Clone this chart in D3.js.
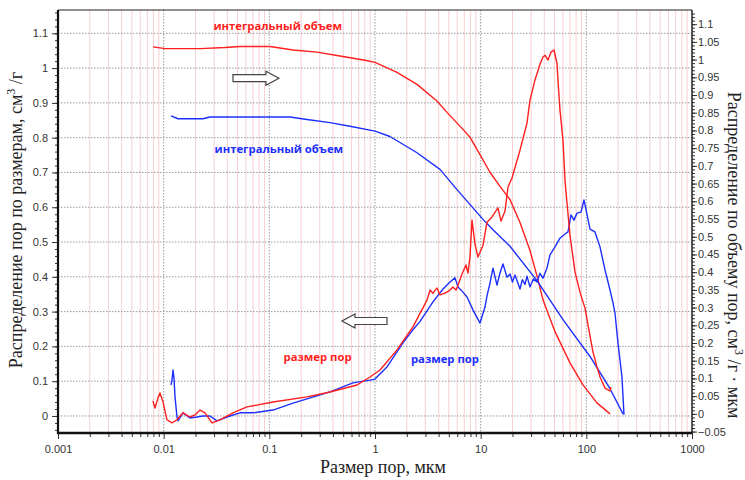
<!DOCTYPE html>
<html>
<head>
<meta charset="utf-8">
<script src="https://cdn.jsdelivr.net/npm/d3@7"></script>
<style>
  body { margin: 0; background: #fff; }
</style>
</head>
<body>
<div id="chart"></div>
<script>
// размер пор, мкм / распределение (левая ось) - красная кривая
var redSizeX = [0.00792, 0.00828, 0.00884, 0.00923, 0.00986, 0.01075, 0.01199, 0.01337, 0.01524, 0.01775,
    0.0198, 0.02207, 0.02461, 0.02867, 0.03412, 0.04529, 0.06146, 0.1083, 0.2272, 0.3751,
    0.6756, 0.8967, 1.115, 1.615, 1.97, 2.288, 2.666, 3.105, 3.32, 3.54, 3.86, 4.12, 4.59, 5.13, 5.47, 5.84,
    6.10, 6.656, 7.262, 7.586, 7.923, 8.277, 8.836, 9.432, 10.52, 11.48,
    12.80, 14.58, 15.57, 16.99, 18.14, 19.79, 23.56, 27.44, 29.29, 32.66,
    36.42, 38.89, 40.62, 43.37, 46.30, 49.42, 52.75, 53.91, 56.31, 60.12,
    62.80, 65.60, 70.02, 78.08, 87.07, 97.1, 108.3, 115.6, 126.1, 134.7,
    150.2, 167.5, 171.2];
var redSizeY = [0.043, 0.023, 0.052, 0.066, 0.040, -0.011, -0.020, -0.011, 0.009, -0.003,
    0.003, 0.017, 0.009, -0.020, -0.011, 0.009, 0.026, 0.040, 0.055, 0.069,
    0.089, 0.112, 0.132, 0.190, 0.228, 0.256, 0.295, 0.333, 0.362, 0.353, 0.368, 0.348, 0.353, 0.362, 0.371, 0.362,
    0.376, 0.408, 0.434, 0.411, 0.457, 0.563, 0.494, 0.457, 0.491, 0.557,
    0.572, 0.598, 0.560, 0.589, 0.658, 0.684, 0.764, 0.842, 0.908, 0.966,
    1.011, 1.032, 1.037, 1.023, 1.046, 1.052, 1.014, 0.966, 0.879, 0.793,
    0.678, 0.612, 0.520, 0.414, 0.356, 0.310, 0.230, 0.184, 0.141, 0.112,
    0.080, 0.072, 0.083];

// синяя кривая распределения (левая ось)
var blueSizeX = [0.01173, 0.01199, 0.01226, 0.01253, 0.0128, 0.01337, 0.01367, 0.01524, 0.01775, 0.02067,
    0.02357, 0.02744, 0.03196, 0.03975, 0.05278, 0.07004, 0.1083, 0.1675, 0.3751, 0.6189,
    0.8967, 1.0, 1.299, 1.840, 2.288, 2.666, 3.105, 3.538, 4.40, 5.125, 5.715, 6.101,
    6.803, 7.422, 8.459, 9.854, 10.99, 11.48, 12.25, 13.08, 14.27, 15.23, 16.26,
    17.75, 18.95, 20.0, 21.13, 23.56, 24.8, 26.27, 27.44, 29.29, 31.5, 34.12, 36.4, 38.89, 42.43, 45.29,
    50.50, 56.31, 62.80, 67.04, 71.56, 76.39, 81.55, 88.99, 95.0, 101.4,
    108.3, 120.7, 134.7, 150.2, 167.5, 178.8, 186.7, 199.3, 217.4, 227.2];
var blueSizeY = [0.089, 0.103, 0.132, 0.109, 0.055, -0.003, -0.014, 0.009, -0.006, -0.003,
    0.000, 0.000, -0.014, -0.003, 0.009, 0.009, 0.017, 0.037, 0.069, 0.095,
    0.103, 0.106, 0.141, 0.210, 0.248, 0.272, 0.302, 0.328, 0.365, 0.385, 0.397, 0.371,
    0.356, 0.342, 0.305, 0.267, 0.313, 0.345, 0.382, 0.425, 0.376, 0.411, 0.437,
    0.399, 0.408, 0.385, 0.405, 0.365, 0.392, 0.378, 0.402, 0.371, 0.394, 0.385, 0.410, 0.396, 0.425, 0.463,
    0.486, 0.511, 0.523, 0.529, 0.578, 0.563, 0.583, 0.586, 0.621, 0.580,
    0.537, 0.529, 0.486, 0.420, 0.362, 0.325, 0.296, 0.210, 0.112, 0.003];

// интегральный объем (правая ось)
var redIntX = [0.00792, 0.01029, 0.02207, 0.03805, 0.05278, 0.1015, 0.1675, 0.2825, 0.4664, 0.8042,
    1.0, 1.615, 2.497, 3.860, 4.800, 6.803, 7.923, 9.854, 12.25, 15.23,
    18.95, 23.56, 29.29, 34.87, 38.89, 50.50, 70.02, 92.96, 126.1, 167.5];
var redIntY = [1.036, 1.031, 1.031, 1.034, 1.037, 1.037, 1.027, 1.021, 1.010, 0.998,
    0.992, 0.964, 0.930, 0.883, 0.851, 0.803, 0.781, 0.732, 0.682, 0.642,
    0.605, 0.540, 0.461, 0.379, 0.322, 0.232, 0.144, 0.082, 0.031, 0.000];

var blueIntX = [0.01173, 0.01367, 0.02357, 0.02744, 0.1569, 0.2272, 0.3751, 0.5798, 1.0, 1.386,
    2.497, 4.121, 5.970, 10.52, 13.08, 18.95, 34.12, 60.12, 108.3, 167.5, 222.3];
var blueIntY = [0.841, 0.833, 0.833, 0.838, 0.838, 0.831, 0.822, 0.812, 0.798, 0.783,
    0.737, 0.690, 0.633, 0.549, 0.520, 0.473, 0.376, 0.266, 0.162, 0.071, 0.000];

var xTicks = [0.001, 0.01, 0.1, 1, 10, 100, 1000];
var xTickLabels = ["0.001", "0.01", "0.1", "1", "10", "100", "1000"];
var leftTicks = d3.range(0, 12).map(i => i / 10);
var rightTicks = d3.range(-1, 23).map(i => i / 20);

var width = 745;
var height = 480;
var plotLeft = 58, plotRight = 692, plotTop = 10, plotBottom = 433;

var svg = d3.select('#chart')
    .append('svg')
    .attr('width', width)
    .attr('height', height);

var x = d3.scaleLog().domain([0.001, 1000]).range([plotLeft, plotRight]);
var yLeft = d3.scaleLinear().domain([-0.049, 1.167]).range([plotBottom, plotTop]);
var yRight = d3.scaleLinear().domain([-0.054, 1.14]).range([plotBottom, plotTop]);

// сетка: промежуточные вертикальные линии
var minorX = [];
for (let p = -3; p < 3; p++) {
    for (let k = 2; k <= 9; k++) minorX.push(k * Math.pow(10, p));
}
svg.append('g')
    .selectAll('line')
    .data(minorX)
    .enter()
    .append('line')
    .attr('x1', d => x(d)).attr('x2', d => x(d))
    .attr('y1', plotTop).attr('y2', plotBottom)
    .attr('stroke', '#f9d0d0')
    .attr('stroke-width', 1);

svg.append('g')
    .selectAll('line')
    .data(xTicks.slice(1, -1))
    .enter()
    .append('line')
    .attr('x1', d => x(d)).attr('x2', d => x(d))
    .attr('y1', plotTop).attr('y2', plotBottom)
    .attr('stroke', '#9a9a9a')
    .attr('stroke-dasharray', '1.5,1.5')
    .attr('stroke-width', 1);

svg.append('g')
    .selectAll('line')
    .data(leftTicks)
    .enter()
    .append('line')
    .attr('x1', plotLeft).attr('x2', plotRight)
    .attr('y1', d => yLeft(d)).attr('y2', d => yLeft(d))
    .attr('stroke', '#9a9a9a')
    .attr('stroke-dasharray', '1.5,1.5')
    .attr('stroke-width', 1);

// кривые
var line = (xs, ys, yScale) => d3.line()
    .x((d, i) => x(xs[i]))
    .y((d, i) => yScale(ys[i]))(xs);

var series = [
    { xs: redIntX, ys: redIntY, y: yRight, color: '#ff1f1f' },
    { xs: blueIntX, ys: blueIntY, y: yRight, color: '#1c2fff' },
    { xs: blueSizeX, ys: blueSizeY, y: yLeft, color: '#1c2fff' },
    { xs: redSizeX, ys: redSizeY, y: yLeft, color: '#ff1f1f' }
];
svg.append('g')
    .selectAll('path')
    .data(series)
    .enter()
    .append('path')
    .attr('d', d => line(d.xs, d.ys, d.y))
    .attr('fill', 'none')
    .attr('stroke', d => d.color)
    .attr('stroke-width', 1.4)
    .attr('stroke-linejoin', 'round');

// оси
svg.append('g')
    .attr('transform', 'translate(0,' + plotBottom + ')')
    .call(d3.axisBottom(x).tickValues(minorX).tickSize(4).tickFormat(''));
svg.append('g')
    .attr('transform', 'translate(0,' + plotBottom + ')')
    .call(d3.axisBottom(x).tickValues(xTicks).tickSize(6).tickPadding(6)
        .tickFormat((d, i) => xTickLabels[i]));

svg.append('g')
    .attr('transform', 'translate(' + plotLeft + ',0)')
    .call(d3.axisLeft(yLeft).tickValues(d3.range(-2, 59).map(i => i / 50)).tickSize(3).tickFormat(''));
svg.append('g')
    .attr('transform', 'translate(' + plotLeft + ',0)')
    .call(d3.axisLeft(yLeft).tickValues(leftTicks).tickSize(6).tickPadding(4)
        .tickFormat(d => d3.format('')(+d.toFixed(1))));

svg.append('g')
    .attr('transform', 'translate(' + plotRight + ',0)')
    .call(d3.axisRight(yRight).tickValues(d3.range(-5, 114).map(i => i / 100)).tickSize(3).tickFormat(''));
svg.append('g')
    .attr('transform', 'translate(' + plotRight + ',0)')
    .call(d3.axisRight(yRight).tickValues(rightTicks).tickSize(5).tickPadding(1)
        .tickFormat(d => d3.format('')(+d.toFixed(2))));

svg.selectAll('.domain').remove();
svg.selectAll('.tick line').attr('stroke', '#333');
svg.selectAll('.tick text')
    .attr('font-family', 'Liberation Sans, Arial, sans-serif')
    .attr('font-size', 11)
    .attr('fill', '#333');

// рамка
svg.append('line').attr('x1', plotLeft).attr('x2', plotRight).attr('y1', plotTop).attr('y2', plotTop)
    .attr('stroke', '#222').attr('stroke-width', 1.2);
svg.append('line').attr('x1', plotRight).attr('x2', plotRight).attr('y1', plotTop).attr('y2', plotBottom)
    .attr('stroke', '#222').attr('stroke-width', 1.5);
svg.append('line').attr('x1', plotLeft).attr('x2', plotLeft).attr('y1', plotTop).attr('y2', plotBottom + 1)
    .attr('stroke', '#111').attr('stroke-width', 2.2);
svg.append('line').attr('x1', plotLeft - 1).attr('x2', plotRight).attr('y1', plotBottom).attr('y2', plotBottom)
    .attr('stroke', '#111').attr('stroke-width', 2.6);

// подписи осей
var serif = 'Liberation Serif, Times New Roman, serif';
var leftTitle = svg.append('text')
    .attr('transform', 'translate(22,' + 220 + ') rotate(-90)')
    .attr('text-anchor', 'middle')
    .attr('font-family', serif)
    .attr('font-size', 18)
    .attr('fill', '#222');
leftTitle.append('tspan').text('Распределение пор по размерам, см');
leftTitle.append('tspan').attr('font-size', 12).attr('dy', -7).text('3');
leftTitle.append('tspan').attr('dy', 7).text(' /г');

var rightTitle = svg.append('text')
    .attr('transform', 'translate(728,' + 255 + ') rotate(90)')
    .attr('text-anchor', 'middle')
    .attr('font-family', serif)
    .attr('font-size', 18)
    .attr('fill', '#222');
rightTitle.append('tspan').text('Распределение по объему пор, см');
rightTitle.append('tspan').attr('font-size', 12).attr('dy', -7).text('3');
rightTitle.append('tspan').attr('dy', 7).text(' /г · мкм');

svg.append('text')
    .attr('x', 383).attr('y', 473)
    .attr('text-anchor', 'middle')
    .attr('font-family', serif)
    .attr('font-size', 18)
    .attr('fill', '#222')
    .text('Размер пор, мкм');

// надписи у кривых
var notes = [
    { text: 'интегральный объем', x: 0.12, y: 1.122, color: '#ff1f1f' },
    { text: 'интегральный объем', x: 0.123, y: 0.767, color: '#1c2fff' },
    { text: 'размер пор', x: 0.286, y: 0.170, color: '#ff1f1f' },
    { text: 'размер пор', x: 4.59, y: 0.164, color: '#1c2fff' }
];
svg.append('g')
    .selectAll('text')
    .data(notes)
    .enter()
    .append('text')
    .attr('x', d => x(d.x))
    .attr('y', d => yLeft(d.y))
    .attr('dy', '0.35em')
    .attr('text-anchor', 'middle')
    .attr('font-family', 'Open Sans, sans-serif')
    .attr('font-weight', 'bold')
    .attr('font-size', 11.3)
    .attr('fill', d => d.color)
    .text(d => d.text);

// стрелки
function arrow(x0, x1, yc, dir) {
    var sh = 3.5, hh = 7, hl = 13;
    var a = x(x0), b = x(x1), c = yLeft(yc);
    var pts;
    if (dir > 0) {
        pts = [[a, c - sh], [b - hl, c - sh], [b - hl, c - hh], [b, c], [b - hl, c + hh], [b - hl, c + sh], [a, c + sh]];
    } else {
        pts = [[b, c - sh], [a + hl, c - sh], [a + hl, c - hh], [a, c], [a + hl, c + hh], [a + hl, c + sh], [b, c + sh]];
    }
    svg.append('polygon')
        .attr('points', pts.map(p => p.join(',')).join(' '))
        .attr('fill', '#fff')
        .attr('stroke', '#444')
        .attr('stroke-width', 1.2);
}
arrow(0.0453, 0.1233, 0.971, 1);
arrow(0.487, 1.299, 0.273, -1);
</script>
</body>
</html>
